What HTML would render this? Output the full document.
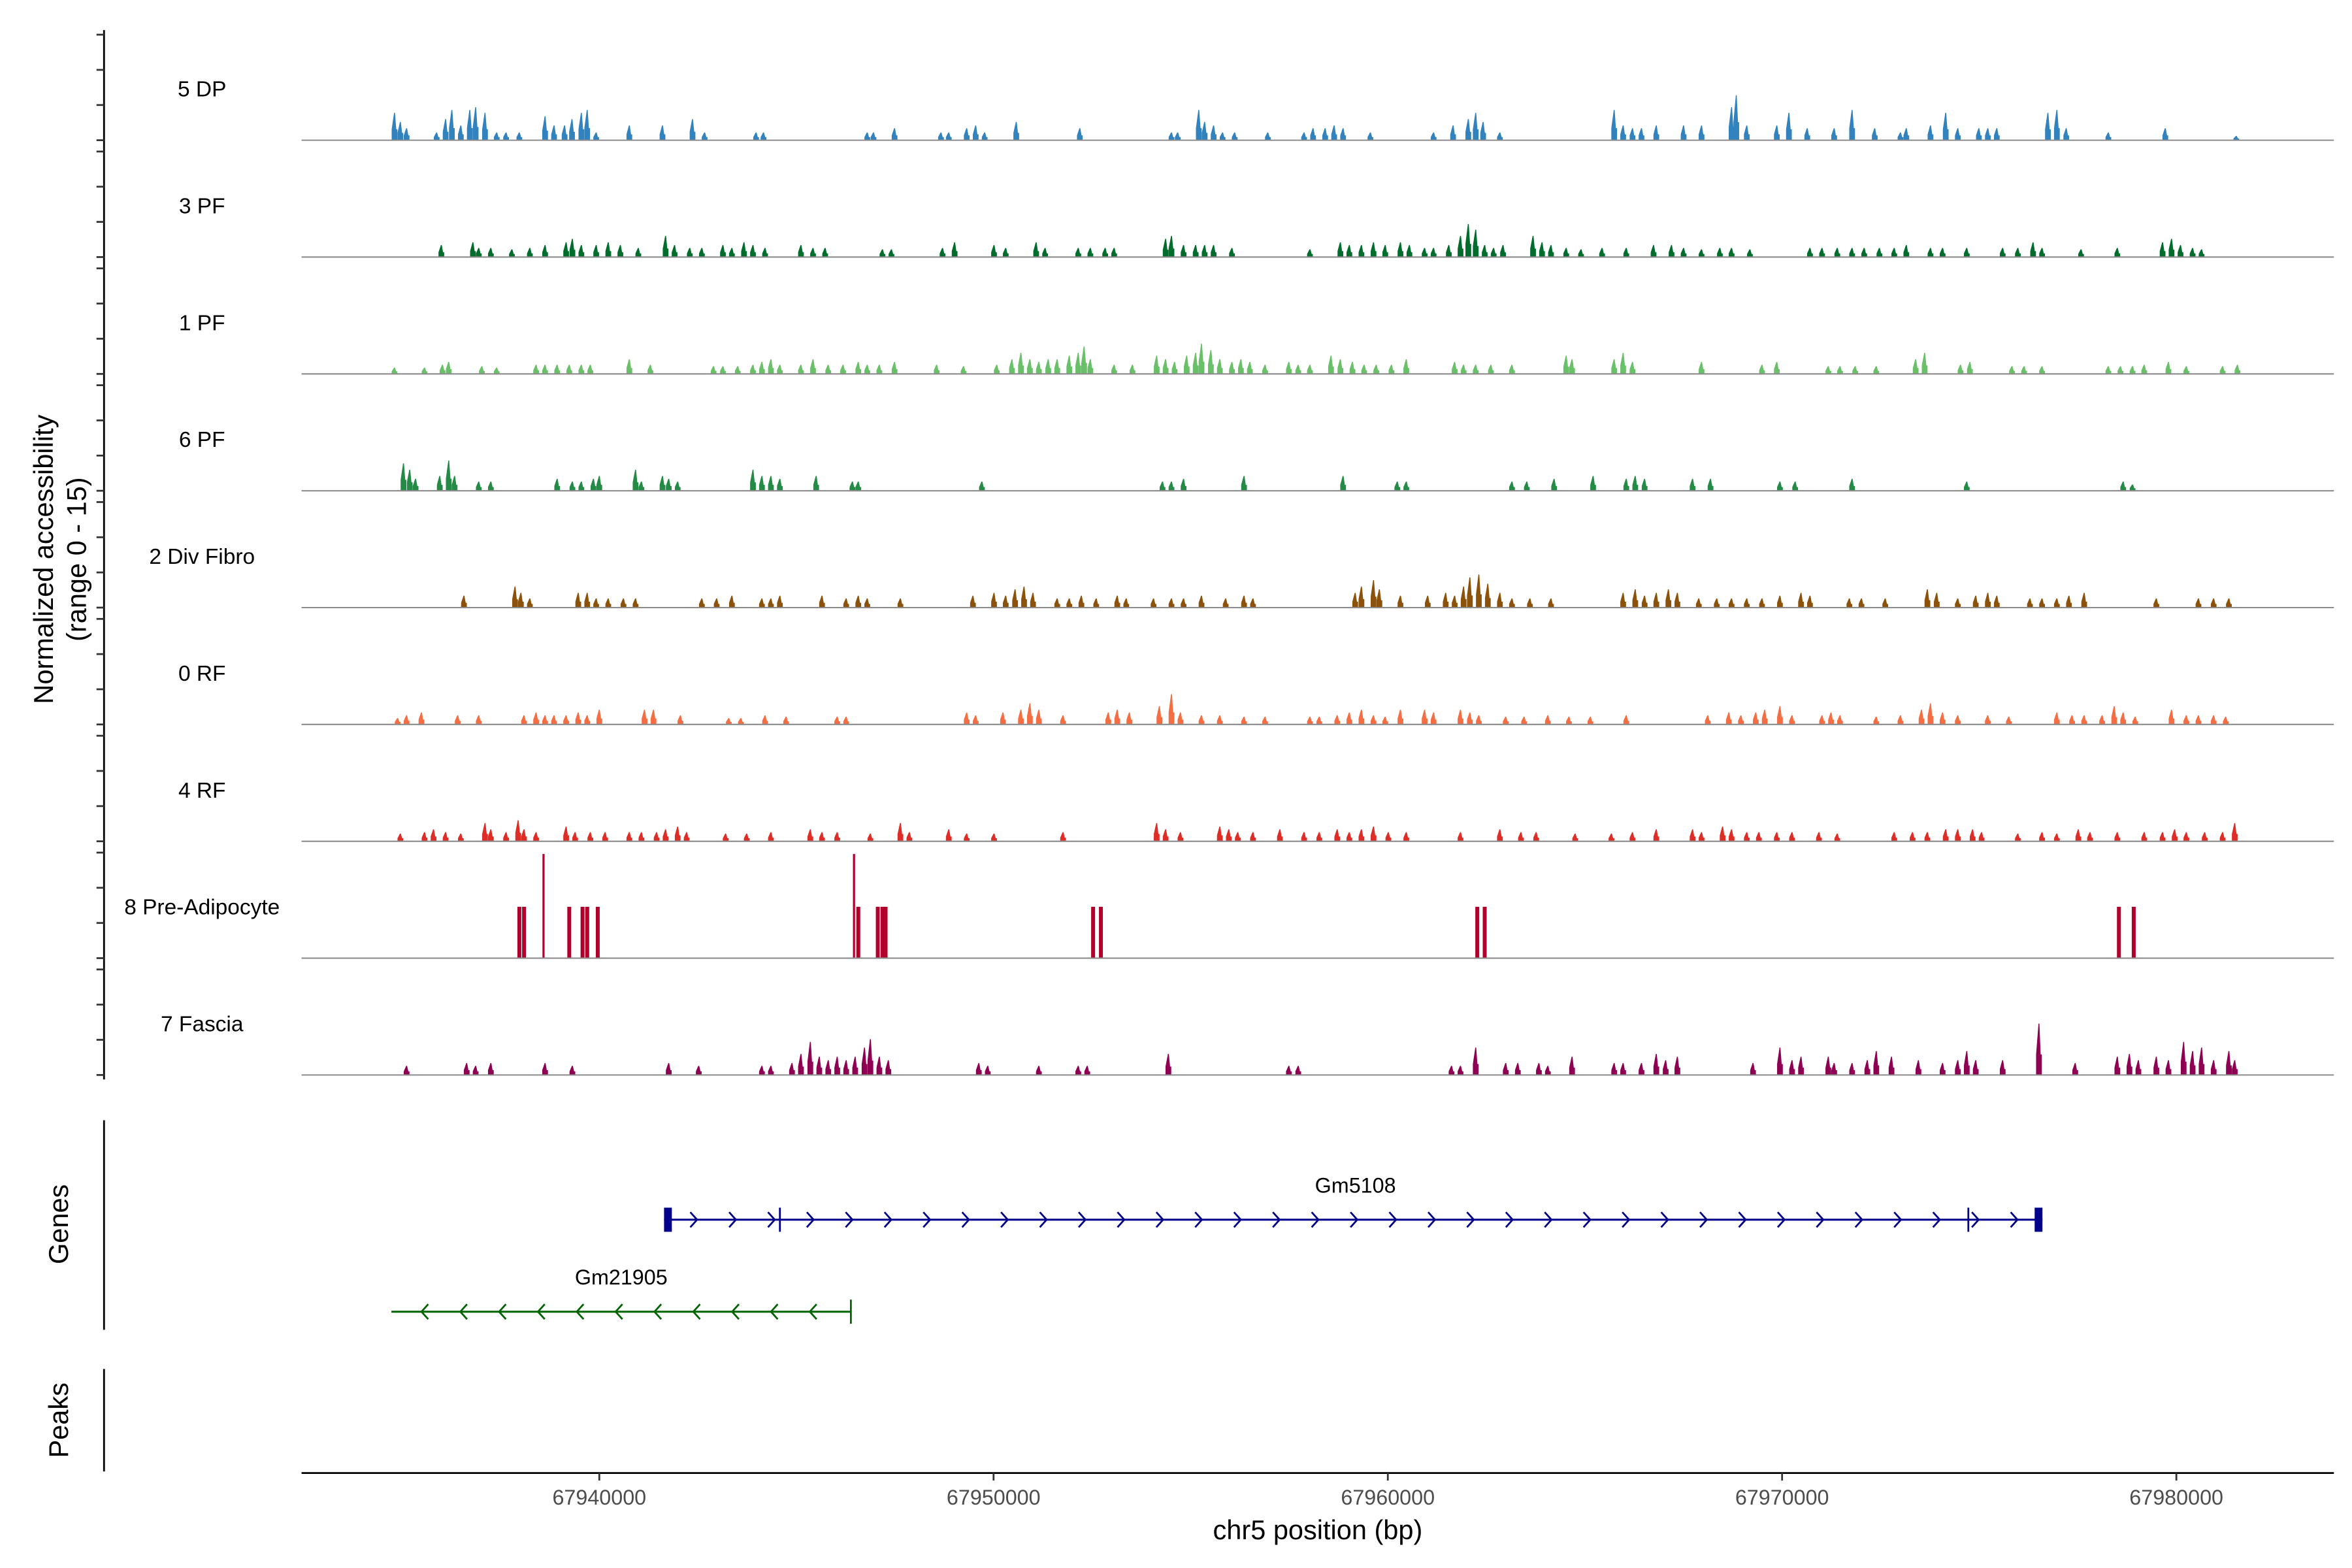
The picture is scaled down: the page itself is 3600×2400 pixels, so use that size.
<!DOCTYPE html>
<html><head><meta charset="utf-8"><style>html,body{margin:0;padding:0;background:#fff}svg{display:block}text{font-family:"Liberation Sans",sans-serif}</style></head>
<body>
<svg id="chart" xmlns="http://www.w3.org/2000/svg" width="3600" height="2400" viewBox="0 0 1560 1040">
<rect width="1560" height="1040" fill="#fff"/>
<g id="tracks"></g>
<g id="axes"></g>
<text transform="translate(35,371) rotate(-90)" text-anchor="middle" font-size="18">Normalized accessibility</text>
<text transform="translate(57,371) rotate(-90)" text-anchor="middle" font-size="18">(range 0 - 15)</text>
<text transform="translate(45,812) rotate(-90)" text-anchor="middle" font-size="18">Genes</text>
<text transform="translate(45,942) rotate(-90)" text-anchor="middle" font-size="18">Peaks</text>
<text x="874" y="1021" text-anchor="middle" font-size="18">chr5 position (bp)</text>
</svg>
<script>
// positions: kb past 67,930,000 (as read on a 25.87 px/kb grid; converted below); values: normalized accessibility (0-15)
const trackNames = ["5 DP","3 PF","1 PF","6 PF","2 Div Fibro","0 RF","4 RF","8 Pre-Adipocyte","7 Fascia"];
const trackColors = ["#3182bd","#006d2c","#6abf69","#238b45","#8c510a","#f46d43","#de2d26","#b2002c","#8e0152"];
const dp5 = [[4.75,3.9],[4.9,2.6],[5.06,1.7],[5.83,1.1],[6.06,3.0],[6.22,4.3],[6.45,2.1],[6.68,4.3],[6.83,4.7],[7.07,3.9],[7.37,1.1],[7.61,1.1],[7.95,1.1],[8.61,3.4],[8.84,2.1],[9.11,2.1],[9.3,3.0],[9.54,3.9],[9.69,4.3],[9.92,1.1],[10.77,2.1],[11.62,2.1],[12.39,3.0],[12.7,1.1],[14.02,1.1],[14.21,1.1],[16.87,1.1],[17.03,1.1],[17.57,1.7],[18.76,1.1],[18.96,1.1],[19.42,1.7],[19.65,2.1],[19.88,1.1],[20.69,2.6],[22.32,1.7],[24.67,1.1],[24.83,1.1],[25.37,4.3],[25.52,2.6],[25.75,2.1],[25.98,1.1],[26.29,1.1],[27.14,1.1],[28.07,1.1],[28.3,1.7],[28.61,1.7],[28.84,2.1],[29.07,1.7],[29.77,1.1],[31.39,1.1],[31.89,2.1],[32.28,3.0],[32.47,3.9],[32.66,2.6],[33.09,1.1],[36.02,4.3],[36.25,2.1],[36.49,1.7],[36.72,1.7],[37.1,2.1],[37.8,2.1],[38.26,2.1],[39.03,4.7],[39.15,6.4],[39.42,2.1],[40.19,2.1],[40.5,3.9],[40.97,1.7],[41.66,1.7],[42.12,4.3],[42.7,1.7],[43.36,1.1],[43.51,1.7],[44.13,2.1],[44.52,3.9],[44.83,1.7],[45.37,1.7],[45.6,1.7],[45.83,1.7],[47.14,3.9],[47.37,4.3],[47.61,1.7],[48.69,1.1],[50.15,1.7],[51.97,0.6]];
const pf3 = [[5.95,1.7],[6.76,2.1],[6.91,1.3],[7.22,1.3],[7.76,1.1],[8.22,1.3],[8.61,1.7],[9.15,2.1],[9.31,2.6],[9.54,1.7],[9.92,1.7],[10.23,2.1],[10.54,1.7],[11.0,1.3],[11.7,3.0],[11.93,1.7],[12.32,1.3],[12.63,1.3],[13.17,1.7],[13.4,1.3],[13.71,2.1],[13.94,1.7],[14.25,1.3],[15.17,1.7],[15.48,1.3],[15.79,1.3],[17.26,1.1],[17.49,1.1],[18.8,1.3],[19.11,2.1],[20.12,1.7],[20.42,1.3],[21.2,2.1],[21.43,1.3],[22.28,1.3],[22.59,1.3],[22.97,1.3],[23.2,1.3],[24.52,2.6],[24.67,3.0],[24.98,1.7],[25.29,1.7],[25.52,1.7],[25.75,1.7],[26.22,1.3],[28.22,1.1],[29.0,2.1],[29.23,1.7],[29.54,1.7],[29.85,2.1],[30.15,1.7],[30.54,2.1],[30.77,1.7],[31.16,1.3],[31.39,1.3],[31.78,1.7],[32.08,3.0],[32.28,4.7],[32.47,3.9],[32.7,1.7],[32.93,1.3],[33.17,1.7],[33.94,3.0],[34.17,2.1],[34.4,1.7],[34.79,1.3],[35.17,1.1],[35.71,1.3],[36.33,1.3],[37.03,1.7],[37.49,1.7],[37.8,1.3],[38.26,1.1],[38.73,1.3],[39.03,1.3],[39.5,1.1],[41.04,1.3],[41.35,1.3],[41.74,1.3],[42.12,1.3],[42.43,1.3],[42.82,1.3],[43.2,1.3],[43.51,1.7],[44.13,1.3],[44.44,1.3],[45.06,1.3],[45.98,1.3],[46.37,1.3],[46.76,2.1],[46.99,1.3],[47.99,1.1],[48.92,1.3],[50.08,2.1],[50.31,2.6],[50.54,1.7],[50.85,1.3],[51.08,1.1]];
const pf1 = [[4.75,0.9],[5.52,0.9],[5.98,1.3],[6.14,1.7],[6.99,1.1],[7.37,0.9],[8.38,1.3],[8.61,1.3],[8.92,1.3],[9.23,1.3],[9.54,1.3],[9.77,1.3],[10.77,2.1],[11.31,1.3],[12.93,1.1],[13.17,1.1],[13.55,1.1],[13.94,1.3],[14.17,1.7],[14.4,2.1],[14.63,1.3],[15.17,1.3],[15.48,2.1],[15.87,1.3],[16.25,1.3],[16.64,1.7],[16.87,1.3],[17.18,1.3],[17.57,1.7],[18.65,1.3],[19.34,1.1],[20.19,1.3],[20.58,2.1],[20.81,3.0],[21.04,2.1],[21.27,1.7],[21.51,2.1],[21.74,2.1],[22.05,2.6],[22.28,3.0],[22.43,3.9],[22.59,2.1],[23.2,1.3],[23.67,1.3],[24.29,2.6],[24.52,2.1],[24.75,1.7],[25.06,2.6],[25.29,3.0],[25.44,4.3],[25.68,3.4],[25.91,2.1],[26.22,1.7],[26.45,2.1],[26.68,1.7],[27.07,1.3],[27.68,1.7],[27.92,1.3],[28.22,1.3],[28.76,2.6],[29.0,2.1],[29.31,1.7],[29.61,1.3],[29.92,1.3],[30.31,1.3],[30.69,2.1],[31.93,1.7],[32.16,1.3],[32.47,1.3],[32.86,1.3],[33.4,1.3],[34.79,2.6],[34.94,2.1],[36.02,2.1],[36.25,3.0],[36.49,1.7],[38.26,1.7],[39.81,1.3],[40.19,1.7],[41.51,1.1],[41.81,1.1],[42.2,1.1],[42.74,1.1],[43.75,2.1],[43.98,3.0],[44.9,1.3],[45.14,1.7],[46.22,1.1],[46.53,1.1],[46.99,1.1],[48.69,1.1],[49.0,1.1],[49.31,1.1],[49.61,1.3],[50.23,1.7],[50.69,1.1],[51.62,1.1],[52.0,1.3]];
const pf6 = [[4.98,3.9],[5.14,3.0],[5.29,1.7],[5.91,2.1],[6.14,4.3],[6.29,2.1],[6.91,1.3],[7.22,1.3],[8.92,1.7],[9.31,1.3],[9.54,1.3],[9.85,1.7],[10.0,2.1],[10.93,3.0],[11.08,1.3],[11.62,2.1],[11.78,1.7],[12.01,1.3],[13.94,3.0],[14.17,2.1],[14.4,2.1],[14.63,1.7],[15.56,2.1],[16.49,1.3],[16.64,1.3],[19.81,1.3],[24.44,1.3],[24.67,1.3],[24.98,1.7],[26.53,2.1],[29.07,2.1],[30.46,1.3],[30.69,1.3],[33.4,1.3],[33.78,1.3],[34.48,1.7],[35.48,2.1],[36.33,1.7],[36.56,2.1],[36.8,1.7],[38.03,1.7],[38.49,1.7],[40.27,1.3],[40.66,1.3],[42.12,1.7],[45.06,1.3],[49.07,1.3],[49.31,0.9]];
const divFibro2 = [[6.53,1.7],[7.84,3.0],[7.99,2.1],[8.22,1.3],[9.46,2.1],[9.69,2.1],[9.92,1.3],[10.23,1.3],[10.62,1.3],[10.93,1.3],[12.63,1.3],[13.01,1.3],[13.4,1.7],[14.17,1.3],[14.4,1.3],[14.63,1.7],[15.71,1.7],[16.33,1.3],[16.64,1.7],[16.87,1.3],[17.72,1.3],[19.58,1.7],[20.12,2.1],[20.42,1.7],[20.66,2.6],[20.89,3.0],[21.12,2.1],[21.74,1.3],[22.05,1.3],[22.36,1.7],[22.74,1.3],[23.28,1.7],[23.51,1.3],[24.21,1.3],[24.67,1.3],[24.98,1.3],[25.44,1.7],[26.06,1.3],[26.53,1.7],[26.76,1.3],[29.38,2.1],[29.54,3.0],[29.85,3.9],[30.0,2.6],[30.54,1.7],[31.24,1.7],[31.7,2.1],[31.93,1.7],[32.16,3.0],[32.32,4.3],[32.55,4.7],[32.78,3.4],[33.09,2.1],[33.4,1.3],[33.86,1.3],[34.4,1.3],[36.25,2.1],[36.56,2.6],[36.8,1.7],[37.1,2.1],[37.41,2.6],[37.64,2.1],[38.19,1.3],[38.65,1.3],[39.03,1.3],[39.42,1.3],[39.81,1.3],[40.27,1.7],[40.81,2.1],[41.04,1.7],[42.05,1.3],[42.36,1.3],[42.97,1.3],[44.05,2.6],[44.29,2.1],[44.83,1.3],[45.29,1.7],[45.6,2.1],[45.83,1.7],[46.68,1.3],[46.99,1.3],[47.37,1.3],[47.68,1.7],[48.07,2.1],[49.92,1.3],[51.0,1.3],[51.39,1.3],[51.78,1.3]];
const rf0 = [[4.83,0.9],[5.06,1.3],[5.44,1.7],[6.37,1.3],[6.91,1.3],[8.07,1.3],[8.38,1.7],[8.61,1.3],[8.84,1.3],[9.15,1.3],[9.46,1.7],[9.69,1.3],[10.0,2.1],[11.16,2.1],[11.39,2.1],[12.08,1.3],[13.32,0.9],[13.63,0.9],[14.25,1.3],[14.79,1.1],[16.1,1.1],[16.33,1.1],[19.42,1.7],[19.65,1.3],[20.35,1.7],[20.81,2.1],[21.04,3.0],[21.27,2.1],[21.89,1.3],[23.05,1.7],[23.28,2.1],[23.59,1.7],[24.36,2.6],[24.67,4.3],[24.9,1.7],[25.44,1.3],[25.91,1.3],[26.53,1.1],[27.07,1.1],[28.22,1.1],[28.46,1.1],[28.92,1.3],[29.23,1.7],[29.54,2.1],[29.85,1.3],[30.15,1.1],[30.54,2.1],[31.16,2.1],[31.39,1.7],[32.08,2.1],[32.32,1.7],[32.55,1.3],[33.24,1.1],[33.71,1.1],[34.32,1.3],[34.86,1.1],[35.41,1.1],[36.33,1.3],[38.42,1.3],[38.96,1.7],[39.27,1.3],[39.65,1.7],[39.88,2.1],[40.27,2.6],[40.58,1.3],[41.35,1.3],[41.58,1.7],[41.81,1.3],[42.74,1.1],[43.36,1.3],[43.9,2.1],[44.13,3.0],[44.44,1.7],[44.83,1.3],[45.6,1.3],[46.14,1.1],[47.37,1.7],[47.76,1.3],[48.07,1.3],[48.53,1.3],[48.84,2.6],[49.07,1.7],[49.38,1.1],[50.31,2.1],[50.69,1.3],[51.0,1.3],[51.39,1.3],[51.7,1.1]];
const rf4 = [[4.9,1.1],[5.52,1.3],[5.75,1.7],[6.06,1.3],[6.45,1.1],[7.07,2.6],[7.22,1.7],[7.61,1.3],[7.92,3.0],[8.07,1.7],[8.38,1.3],[9.15,2.1],[9.38,1.3],[9.77,1.3],[10.15,1.3],[10.77,1.3],[11.08,1.3],[11.47,1.3],[11.7,1.7],[12.01,2.1],[12.24,1.3],[13.24,1.1],[13.78,1.1],[14.4,1.3],[15.41,1.7],[15.71,1.3],[16.1,1.3],[16.95,1.1],[17.72,2.6],[17.95,1.3],[18.96,1.7],[19.42,1.1],[20.12,1.1],[21.89,1.3],[24.29,2.6],[24.52,1.7],[24.9,1.3],[25.91,2.1],[26.14,1.7],[26.37,1.3],[26.76,1.3],[27.45,1.7],[28.07,1.3],[28.46,1.3],[28.92,1.7],[29.23,1.3],[29.54,1.7],[29.85,2.1],[30.23,1.3],[30.69,1.3],[32.08,1.3],[33.09,1.7],[33.63,1.3],[34.02,1.3],[35.02,1.1],[35.95,1.1],[36.49,1.3],[37.1,1.7],[38.03,1.7],[38.26,1.3],[38.8,2.1],[39.03,1.7],[39.42,1.3],[39.73,1.3],[40.19,1.3],[40.58,1.3],[41.27,1.3],[41.74,1.1],[43.2,1.3],[43.67,1.3],[44.05,1.3],[44.52,1.7],[44.83,1.7],[45.21,1.7],[45.44,1.3],[46.37,1.1],[46.99,1.3],[47.37,1.1],[47.92,1.7],[48.22,1.3],[48.92,1.3],[49.61,1.3],[50.08,1.3],[50.39,1.7],[50.69,1.3],[51.16,1.3],[51.62,1.3],[51.93,2.6]];
const preAdipo8 = [[7.95,7.3],[8.07,7.3],[8.57,14.8],[9.23,7.3],[9.57,7.3],[9.69,7.3],[9.96,7.3],[16.53,14.8],[16.64,7.3],[17.14,7.3],[17.26,7.3],[17.34,7.3],[22.66,7.3],[22.86,7.3],[32.51,7.3],[32.7,7.3],[48.96,7.3],[49.34,7.3]];
const fascia7 = [[5.06,1.3],[6.6,1.7],[6.83,1.3],[7.22,1.7],[8.61,1.7],[9.31,1.3],[11.78,1.7],[12.55,1.3],[14.17,1.3],[14.4,1.3],[14.94,1.7],[15.17,3.0],[15.41,4.7],[15.64,2.6],[15.87,2.1],[16.1,2.6],[16.33,2.1],[16.56,2.6],[16.8,3.9],[16.95,5.1],[17.18,2.6],[17.41,2.1],[19.73,1.7],[19.96,1.3],[21.27,1.3],[22.28,1.3],[22.51,1.3],[24.59,3.0],[27.68,1.3],[27.92,1.3],[31.85,1.3],[32.08,1.3],[32.47,3.9],[33.24,1.7],[33.55,1.7],[34.09,1.7],[34.32,1.3],[34.94,2.6],[36.02,1.7],[36.25,1.7],[36.72,1.7],[37.1,3.0],[37.34,2.1],[37.64,2.6],[39.58,1.7],[40.27,3.9],[40.58,2.1],[40.81,2.6],[41.51,2.6],[41.66,1.7],[42.12,1.7],[42.51,2.1],[42.74,3.4],[43.13,2.6],[43.82,2.1],[44.44,1.7],[44.83,2.1],[45.06,3.4],[45.29,2.1],[45.98,2.1],[46.91,7.3],[47.84,1.7],[48.92,2.6],[49.23,3.0],[49.46,2.1],[49.92,2.6],[50.23,2.1],[50.62,4.7],[50.85,3.4],[51.08,3.9],[51.39,2.1],[51.78,3.4],[51.93,2.1]];
const xTickLabels = ["67940000","67950000","67960000","67970000","67980000"];
const xTickKb = [10,20,30,40,50];
// genes: [startKb, endKb] (same read grid)
const gm5108 = [11.66,47.0];
const gm5108Exons = [[11.66,11.86],[14.63,14.63],[45.1,45.1],[46.8,47.0]];
const gm21905 = [4.67,16.45];

// unit conversion of read positions onto true kb scale
const READ_SCALE = 25.87/26.15;
function toKb(p){return 10+(p-10)*READ_SCALE;}
const trackData = [dp5,pf3,pf1,pf6,divFibro2,rf0,rf4,preAdipo8,fascia7].map(t=>t.map(p=>[toKb(p[0]),p[1]]));

const NS="http://www.w3.org/2000/svg";
const X0=397.5, PXKB=26.15;
function xs(kb){return X0+(kb-10)*PXKB;}
const TRACK_TOP=23, TRACK_STEP=77.5, TRACK_H=70, YMAX=15;
function ys(v,i){return TRACK_TOP+i*TRACK_STEP+TRACK_H - v/YMAX*TRACK_H;}
function mk(tag,attrs,parent){const e=document.createElementNS(NS,tag);for(const k in attrs)e.setAttribute(k,attrs[k]);parent.appendChild(e);return e;}
const svg=document.getElementById('chart');
const tracks=document.getElementById('tracks');
const axes=document.getElementById('axes');

trackData.forEach((peaks,i)=>{
  const g=mk('g',{},tracks);
  
  
  const base=ys(0,i);
  const lab=mk('text',{x:134,y:base-29,'text-anchor':'middle','font-size':14.5},g);
  lab.textContent=trackNames[i];
  
  
  peaks.forEach(p=>{
    const xc=xs(p[0]), top=ys(p[1],i);
    let el;
    if(i===7){
      const w = p[1]>10?1.4:2.6;
      el=mk('rect',{x:xc-w/2,y:top,width:w,height:base-top,fill:trackColors[i]},g);
    } else {
      const hw=1.9, mid=base-(base-top)*0.4;
      el=mk('path',{d:`M${xc-hw},${base}L${xc-hw},${mid}L${xc-0.3},${top}L${xc+0.3},${top}L${xc+hw*0.6},${mid}L${xc+hw},${mid}L${xc+hw},${base}Z`,fill:trackColors[i]},g);
    }
    
    
  });
  const bl=mk('line',{x1:200,x2:1548,y1:base,y2:base,stroke:'#8c8c8c','stroke-width':0.9},g);
  
  
});

// left y-axis
const ya=mk('line',{x1:69,x2:69,y1:20,y2:716,stroke:'#000','stroke-width':1.2},axes);


for(let i=0;i<9;i++){for(let k=0;k<4;k++){
  const y=TRACK_TOP+i*TRACK_STEP+k*TRACK_H/3;
  const t=mk('line',{x1:64,x2:69,y1:y,y2:y,stroke:'#333','stroke-width':1.2},axes);
  
  
}}
const ga=mk('line',{x1:69,x2:69,y1:743,y2:882,stroke:'#000','stroke-width':1.2},axes);


const pa=mk('line',{x1:69,x2:69,y1:908,y2:976,stroke:'#000','stroke-width':1.2},axes);



// x axis
const xa=mk('line',{x1:200,x2:1548,y1:977,y2:977,stroke:'#000','stroke-width':1.2},axes);


xTickKb.forEach((kb,j)=>{
  const x=xs(kb);
  const t=mk('line',{x1:x,x2:x,y1:977,y2:982,stroke:'#333','stroke-width':1.2},axes);
  
  
  const l=mk('text',{x:x,y:998,'text-anchor':'middle','font-size':14,fill:'#4d4d4d'},axes);
  l.textContent=xTickLabels[j];
  
  
});

// genes
function drawGene(range,y,color,dir,name,labelX,labelY,exons){
  const g=mk('g',{},svg);
  
  
  const a0=toKb(range[0]), a1=toKb(range[1]);
  const x1=xs(a0), x2=xs(a1);
  mk('line',{x1:x1,x2:x2,y1:y,y2:y,stroke:color,'stroke-width':1.3},g);
  for(let kb=a0+0.8; kb<a1-0.3; kb+=0.985){
    const x=xs(kb);
    const d = dir>0 ? `M${x-3.5},${y-5}L${x+1},${y}L${x-3.5},${y+5}` : `M${x+3.5},${y-5}L${x-1},${y}L${x+3.5},${y+5}`;
    mk('path',{d:d,stroke:color,'stroke-width':1.2,fill:'none'},g);
  }
  if(exons) exons.forEach(e=>{
    const a=xs(toKb(e[0])), b=xs(toKb(e[1]));
    if(b-a>1) mk('rect',{x:a,y:y-8,width:b-a,height:16,fill:color},g);
    else mk('line',{x1:a,x2:a,y1:y-8,y2:y+8,stroke:color,'stroke-width':1.2},g);
  });
  const t=mk('text',{x:labelX,y:labelY,'text-anchor':'middle','font-size':14},g);
  t.textContent=name;
  
  
  return g;
}
drawGene(gm5108,809,'#00008b',1,'Gm5108',899,791,gm5108Exons);
drawGene(gm21905,870,'#006400',-1,'Gm21905',412,852,[[gm21905[1],gm21905[1]]]);
</script>
</body></html>
